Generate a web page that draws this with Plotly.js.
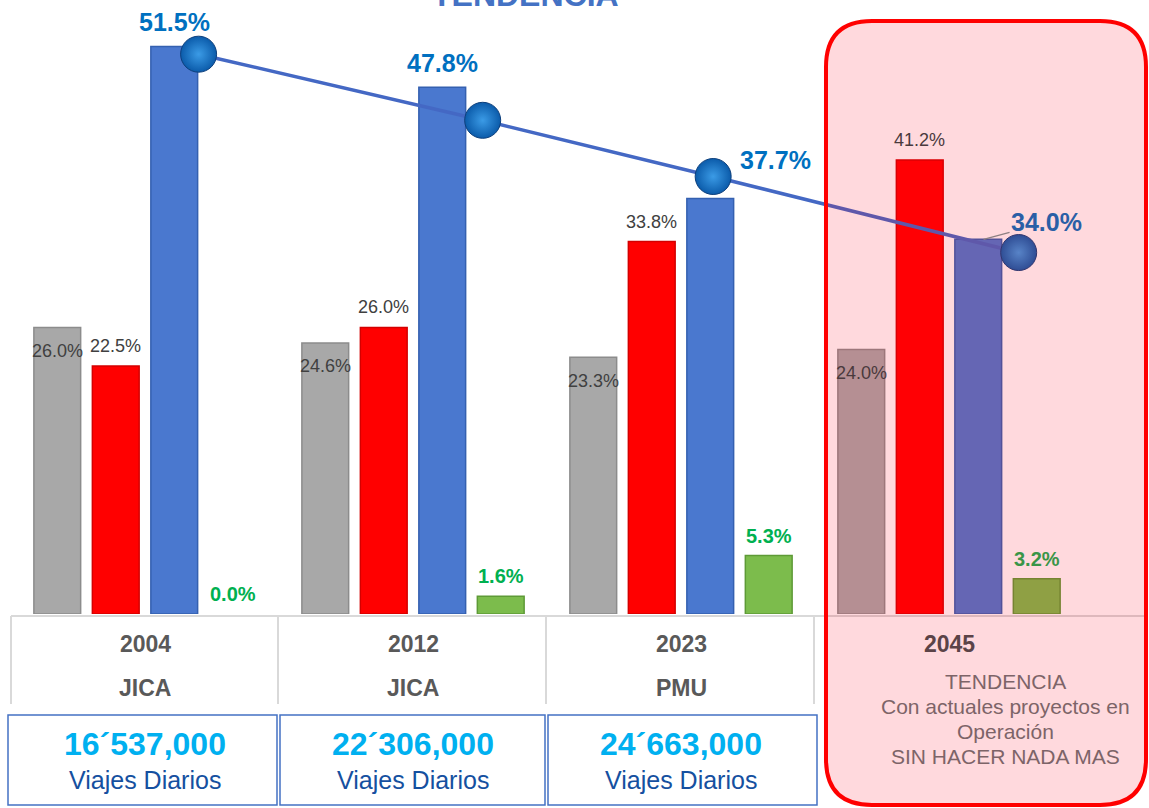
<!DOCTYPE html>
<html><head><meta charset="utf-8">
<script src="https://cdn.plot.ly/plotly-3.0.1.min.js"></script>
<style>html,body{margin:0;padding:0;background:#fff;overflow:hidden} #chart{width:1149px;height:808px;}</style>
</head><body><div id="chart"></div>
<script>
// ---------- data ----------
const years = ['2004', '2012', '2023', '2045'];
const sources = ['JICA', 'JICA', 'PMU'];
const dailyTrips = ['16´537,000', '22´306,000', '24´663,000'];
const tripsLabel = 'Viajes Diarios';
const trendNote = ['TENDENCIA', 'Con actuales proyectos en', 'Operación', 'SIN HACER NADA MAS'];
const chartTitle = 'TENDENCIA';
const grayVals = [26.0, 24.6, 23.3, 24.0];
const redVals = [22.5, 26.0, 33.8, 41.2];
const blueVals = [51.5, 47.8, 37.7, 34.0];
const greenVals = [0.0, 1.6, 5.3, 3.2];
// trend line points (category position, value)
const trendX = [0.20, 1.26, 2.12, 3.26];
const trendVals = [50.8, 44.8, 39.7, 32.8];

// ---------- geometry helpers (style only) ----------
const FW = 1149, FH = 808;
const ML = 11, MR = 66, MT = 0, MB = 194;
const PW = FW - ML - MR, PH = FH - MT - MB;
const xp = px => (px - ML) / PW;
const yp = py => 1 - (py - MT) / PH;
const idx = years.map((_, i) => i);
const FONT = 'Arial, "Liberation Sans", sans-serif';
const fmt = v => v.toFixed(1) + '%';

const barOff = [-0.327, -0.109, 0.109, 0.327];

function barTrace(vals, color, lineColor, name) {
  return {
    type: 'bar', x: idx, y: vals, name: name,
    marker: {color: color, line: {color: lineColor, width: vals.map(v => v > 0 ? 1.5 : 0)}},
    hoverinfo: 'skip', showlegend: false
  };
}

const traces = [
  barTrace(grayVals, '#A8A8A8', '#8c8c8c', 'gray'),
  barTrace(redVals, '#FF0000', '#d40000', 'red'),
  barTrace(blueVals, '#4A78CF', '#3460b0', 'blue'),
  barTrace(greenVals, '#7CBC4C', '#5e9a36', 'green'),
  {
    type: 'scatter', mode: 'lines+markers',
    x: trendX, y: trendVals,
    line: {color: '#4468C4', width: 3.5},
    marker: {size: 36, color: '#0B5BAA', gradient: {type: 'radial', color: '#3B9BE6'},
             line: {color: '#0d3f7c', width: 1}},
    hoverinfo: 'skip', showlegend: false
  }
];

const ann = [];
const tint = i => i === 3;
const C = {xanchor: 'center', yanchor: 'middle', showarrow: false};
// gray labels (inside top)
grayVals.forEach((v, i) => ann.push(Object.assign({x: i + barOff[0], y: v, xref: 'x', yref: 'y', text: fmt(v),
  yshift: -23.5, font: {family: FONT, size: 18, color: tint(i) ? '#4a3a3d' : '#404040'}}, C)));
// red labels (outside)
redVals.forEach((v, i) => ann.push(Object.assign({x: i + barOff[1], y: v, xref: 'x', yref: 'y', text: fmt(v),
  yshift: 20, font: {family: FONT, size: 18, color: tint(i) ? '#4a3a3d' : '#404040'}}, C)));
// green labels
greenVals.forEach((v, i) => ann.push(Object.assign({x: i + barOff[3], y: v, xref: 'x', yref: 'y', text: '<b>' + fmt(v) + '</b>',
  yshift: 20, font: {family: FONT, size: 20, color: tint(i) ? '#3a9548' : '#00B050'}}, C)));
// blue labels
const blueShift = [[0, 24.5], [0, 24], [65, 39], [68, 17]];
blueVals.forEach((v, i) => {
  const a = {x: i + barOff[2], y: v, xref: 'x', yref: 'y', text: '<b>' + fmt(v) + '</b>',
    font: {family: FONT, size: 25, color: tint(i) ? '#2a5fa6' : '#0070C0'}};
  if (i === 3) {
    Object.assign(a, {x: i + barOff[2] + 0.02, showarrow: true, ax: blueShift[i][0] - 5, ay: -blueShift[i][1],
      arrowhead: 0, arrowwidth: 1.3, arrowcolor: '#8c7f82', standoff: 0});
  } else {
    Object.assign(a, C, {xshift: blueShift[i][0], yshift: blueShift[i][1]});
  }
  ann.push(a);
});
// title (cut off at top, as in the original)
ann.push({x: xp(525), y: yp(15), xref: 'paper', yref: 'paper', xanchor: 'center', yanchor: 'bottom', showarrow: false,
  text: '<b>' + chartTitle + '</b>', font: {family: FONT, size: 32, color: '#4472C4'}});
// table rows
years.forEach((yr, i) => ann.push(Object.assign({x: i, y: yp(644), xref: 'x', yref: 'paper',
  text: '<b>' + yr + '</b>', font: {family: FONT, size: 23, color: tint(i) ? '#5b4347' : '#595959'}}, C)));
sources.forEach((s, i) => ann.push(Object.assign({x: i, y: yp(688), xref: 'x', yref: 'paper',
  text: '<b>' + s + '</b>', font: {family: FONT, size: 23, color: '#595959'}}, C)));
dailyTrips.forEach((t, i) => {
  ann.push(Object.assign({x: i, y: yp(744), xref: 'x', yref: 'paper',
    text: '<b>' + t + '</b>', font: {family: FONT, size: 32, color: '#00B0F0'}}, C));
  ann.push(Object.assign({x: i, y: yp(780), xref: 'x', yref: 'paper',
    text: tripsLabel, font: {family: FONT, size: 25, color: '#1550A0'}}, C));
});
const noteY = [681, 706, 731, 756];
trendNote.forEach((t, k) => ann.push(Object.assign({x: xp(1005), y: yp(noteY[k]), xref: 'paper', yref: 'paper',
  text: t, font: {family: FONT, size: 21, color: '#7d6468'}}, C)));

// shapes
const shapes = [];
const gridC = '#d9d9d9';
shapes.push({type: 'line', xref: 'paper', yref: 'paper', x0: xp(11), x1: xp(1146), y0: yp(616), y1: yp(616),
  line: {color: gridC, width: 2}});
[11, 278, 546, 814].forEach(px => shapes.push({type: 'line', xref: 'paper', yref: 'paper',
  x0: xp(px), x1: xp(px), y0: yp(616), y1: yp(704), line: {color: gridC, width: 2}}));
[[8, 277], [280, 545], [548, 817]].forEach(b => shapes.push({type: 'rect', xref: 'paper', yref: 'paper',
  x0: xp(b[0]), x1: xp(b[1]), y0: yp(715), y1: yp(805), line: {color: '#4472C4', width: 1.5}, fillcolor: 'rgba(0,0,0,0)'}));
// rounded highlight rectangle
(function () {
  const x0 = 826, x1 = 1146, y0 = 21, y1 = 805, r = 46;
  const P = (x, y) => xp(x).toFixed(5) + ',' + yp(y).toFixed(5);
  const path = 'M' + P(x0 + r, y0) + ' L' + P(x1 - r, y0) + ' Q' + P(x1, y0) + ' ' + P(x1, y0 + r) +
    ' L' + P(x1, y1 - r) + ' Q' + P(x1, y1) + ' ' + P(x1 - r, y1) +
    ' L' + P(x0 + r, y1) + ' Q' + P(x0, y1) + ' ' + P(x0, y1 - r) +
    ' L' + P(x0, y0 + r) + ' Q' + P(x0, y0) + ' ' + P(x0 + r, y0) + ' Z';
  shapes.push({type: 'path', xref: 'paper', yref: 'paper', path: path, layer: 'above',
    fillcolor: 'rgba(255,0,30,0.15)', line: {color: '#FF0000', width: 4}});
})();

const layout = {
  width: FW, height: FH,
  margin: {l: ML, r: MR, t: MT, b: MB, pad: 0},
  paper_bgcolor: '#ffffff', plot_bgcolor: '#ffffff',
  barmode: 'group', bargap: 0.127, bargroupgap: 0.2,
  xaxis: {type: 'linear', range: [-0.5, 3.5], visible: false, fixedrange: true},
  yaxis: {range: [0, PH / 11.02], visible: false, fixedrange: true},
  annotations: ann, shapes: shapes, showlegend: false,
  font: {family: FONT}
};
Plotly.newPlot('chart', traces, layout, {displayModeBar: false, staticPlot: true});
</script>
</body></html>
